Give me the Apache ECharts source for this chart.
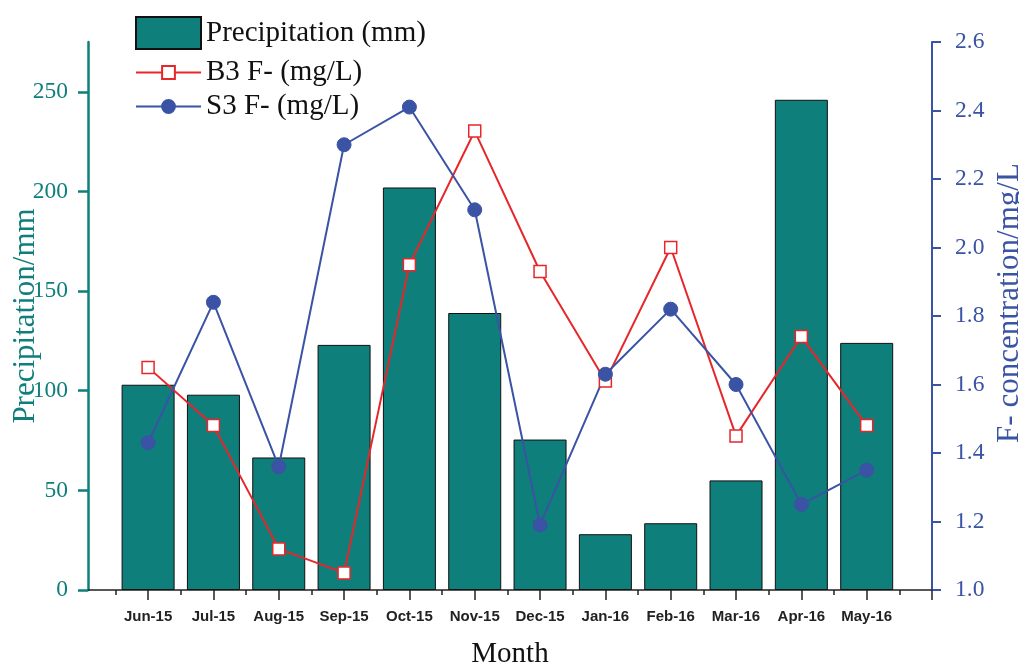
<!DOCTYPE html>
<html>
<head>
<meta charset="utf-8">
<script src="https://cdn.jsdelivr.net/npm/echarts@6/dist/echarts.min.js"></script>
<style>html,body{margin:0;padding:0;background:#fff}#c{width:1019px;height:665px}</style>
</head>
<body>
<div id="c"></div>
<script>
var months = ['Jun-15','Jul-15','Aug-15','Sep-15','Oct-15','Nov-15','Dec-15','Jan-16','Feb-16','Mar-16','Apr-16','May-16'];
var precipitation = [103, 98, 66.5, 123, 202, 139, 75.5, 28, 33.5, 55, 246, 124];
var b3F = [1.65, 1.48, 1.12, 1.05, 1.95, 2.34, 1.93, 1.61, 2.00, 1.45, 1.74, 1.48];
var s3F = [1.43, 1.84, 1.36, 2.30, 2.41, 2.11, 1.19, 1.63, 1.82, 1.60, 1.25, 1.35];
var leftTicks = [0, 50, 100, 150, 200, 250];
var rightTicks = [1.0, 1.2, 1.4, 1.6, 1.8, 2.0, 2.2, 2.4, 2.6];

var teal = '#0E7F7B', blue = '#3A53A4', red = '#E8262A';
function pairs(arr){ return arr.map(function(v,i){ return [i, v]; }); }
var labelX = months.map(function(m,i){ return i; });
var majorX = labelX.concat([12]);
var minorX = [];
for (var i = -0.5; i < 12; i += 1) minorX.push(i);
var serif = '"Liberation Serif","Times New Roman",serif';

var chart = echarts.init(document.getElementById('c'));
chart.setOption({
  animation: false,
  grid: {left: 88, right: 87, top: 42, bottom: 75, outerBoundsMode: 'none', containLabel: false},
  legend: [{
    data: [{name: 'Precipitation (mm)', icon: 'rect'}],
    left: 135, top: 16, padding: 0, itemWidth: 65, itemHeight: 32, itemGap: 8,
    textStyle: {fontFamily: serif, fontSize: 29, color: '#111'}
  }, {
    data: ['B3 F- (mg/L)', 'S3 F- (mg/L)'],
    orient: 'vertical', left: 135, top: 58, padding: 0, itemWidth: 65, itemHeight: 16, itemGap: 5,
    textStyle: {fontFamily: serif, fontSize: 29, color: '#111', lineHeight: 26}
  }],
  xAxis: [{
    type: 'value', min: -0.92, max: 12,
    name: 'Month', nameLocation: 'middle', nameGap: 50, nameMoveOverlap: false,
    nameTextStyle: {fontFamily: serif, fontSize: 29, color: '#111'},
    axisLine: {show: true, onZero: false, lineStyle: {color: '#222', width: 1.5}},
    axisTick: {show: true, customValues: majorX, length: 10, lineStyle: {color: '#222', width: 1.5}},
    axisLabel: {show: true, customValues: labelX, margin: 19,
      formatter: function(v){ return months[Math.round(v)] || ''; },
      fontFamily: '"Liberation Sans",Arial,sans-serif', fontWeight: 'bold', fontSize: 15, color: '#222'},
    splitLine: {show: false}
  }, {
    type: 'value', min: -0.92, max: 12, position: 'bottom',
    axisLine: {show: false, onZero: false},
    axisTick: {show: true, customValues: minorX, length: 5, lineStyle: {color: '#222', width: 1.5}},
    axisLabel: {show: false},
    splitLine: {show: false}
  }],
  yAxis: [{
    type: 'value', min: 0, max: 275, position: 'left',
    name: 'Precipitation/mm', nameLocation: 'middle', nameGap: 47, nameRotate: 90, nameMoveOverlap: false,
    nameTextStyle: {fontFamily: serif, fontSize: 31, color: teal},
    axisLine: {show: true, onZero: false, lineStyle: {color: teal, width: 2.5}},
    axisTick: {show: true, customValues: leftTicks, length: 10, lineStyle: {color: teal, width: 2.5}},
    axisLabel: {customValues: leftTicks, margin: 20, fontFamily: serif, fontSize: 23.5, color: teal},
    splitLine: {show: false}
  }, {
    type: 'value', min: 1.0, max: 2.6, position: 'right',
    name: 'F- concentration/mg/L', nameLocation: 'middle', nameGap: 62, nameRotate: 90, nameMoveOverlap: false,
    nameTextStyle: {fontFamily: serif, fontSize: 31, color: blue, padding: [0, 0, 0, 26]},
    axisLine: {show: true, onZero: false, lineStyle: {color: blue, width: 2}},
    axisTick: {show: true, customValues: rightTicks, length: 9, lineStyle: {color: blue, width: 2}},
    axisLabel: {customValues: rightTicks, margin: 23, fontFamily: serif, fontSize: 23.5, color: blue,
      formatter: function(v){ return v.toFixed(1); }},
    splitLine: {show: false}
  }],
  series: [{
    name: 'Precipitation (mm)', type: 'bar', xAxisIndex: 0, yAxisIndex: 0,
    data: pairs(precipitation), barWidth: 53,
    itemStyle: {color: teal, borderColor: '#111', borderWidth: 1}
  }, {
    name: 'B3 F- (mg/L)', type: 'line', xAxisIndex: 0, yAxisIndex: 1,
    data: pairs(b3F), symbol: 'rect', symbolSize: 12,
    lineStyle: {color: red, width: 2},
    itemStyle: {color: '#fff', borderColor: red, borderWidth: 1.5}
  }, {
    name: 'S3 F- (mg/L)', type: 'line', xAxisIndex: 0, yAxisIndex: 1,
    data: pairs(s3F), symbol: 'circle', symbolSize: 14,
    lineStyle: {color: blue, width: 2},
    itemStyle: {color: blue, borderColor: blue, borderWidth: 1}
  }]
});
</script>
</body>
</html>
